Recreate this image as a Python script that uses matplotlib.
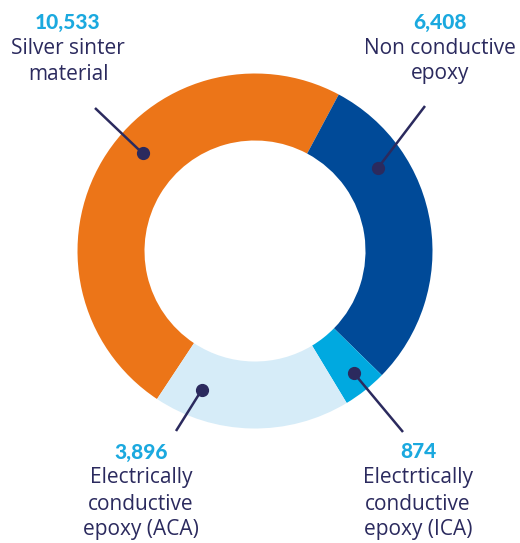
import numpy as np
import matplotlib
matplotlib.use("Agg")
import matplotlib.pyplot as plt

categories = ["Silver sinter\nmaterial", "Non conductive\nepoxy",
              "Electrtically\nconductive\nepoxy (ICA)", "Electrically\nconductive\nepoxy (ACA)"]
values = [10533, 6408, 874, 3896]
value_labels = ["10,533", "6,408", "874", "3,896"]
colors = ["#EC7518", "#004A98", "#00A9E0", "#D6ECF8"]

W, H = 520, 543
fig = plt.figure(figsize=(W / 100, H / 100), dpi=100)
ax = fig.add_axes([0, 0, 1, 1])

cx, cy = 255, H - 251
R = 177.5
ring = 67.0

ax.pie(values, colors=colors, startangle=236.5, counterclock=False,
       radius=R, center=(cx, cy), frame=True,
       wedgeprops=dict(width=ring, linewidth=0))
ax.set_xlim(0, W)
ax.set_ylim(0, H)
ax.set_aspect("equal")
ax.axis("off")

navy = "#2B2A5E"
cyan = "#1BA9DF"

# annotation layout: (dot angle clockwise from top, dot radius, line end px, text x, text y)
ann = [
    (311, 149, (95, 108), 68, 22),
    (56, 148, (425, 106), 440, 22),
    (141, 157, (403, 432), 418, 452),
    (201, 149, (176, 431), 141, 452),
]
body_font = ["Open Sans", "DejaVu Sans"]
num_font = ["Lato", "DejaVu Sans"]
for (ang, rr, end, tx, ty), lab, val in zip(ann, categories, value_labels):
    a = np.deg2rad(90 - ang)
    dx, dy = cx + rr * np.cos(a), cy + rr * np.sin(a)
    ax.plot([dx, end[0]], [dy, H - end[1]], color=navy, lw=1.8, solid_capstyle="butt")
    ax.plot([dx], [dy], "o", color=navy, ms=8.5)
    ax.text(tx, H - ty, val, color=cyan, fontsize=15, fontweight="black",
            ha="center", va="center", family=num_font)
    for i, line in enumerate(lab.split("\n")):
        ax.text(tx, H - ty - 26 * (i + 1), line, color=navy, fontsize=15,
                ha="center", va="center", family=body_font)

fig.savefig("out.png", dpi=100, facecolor="white")
